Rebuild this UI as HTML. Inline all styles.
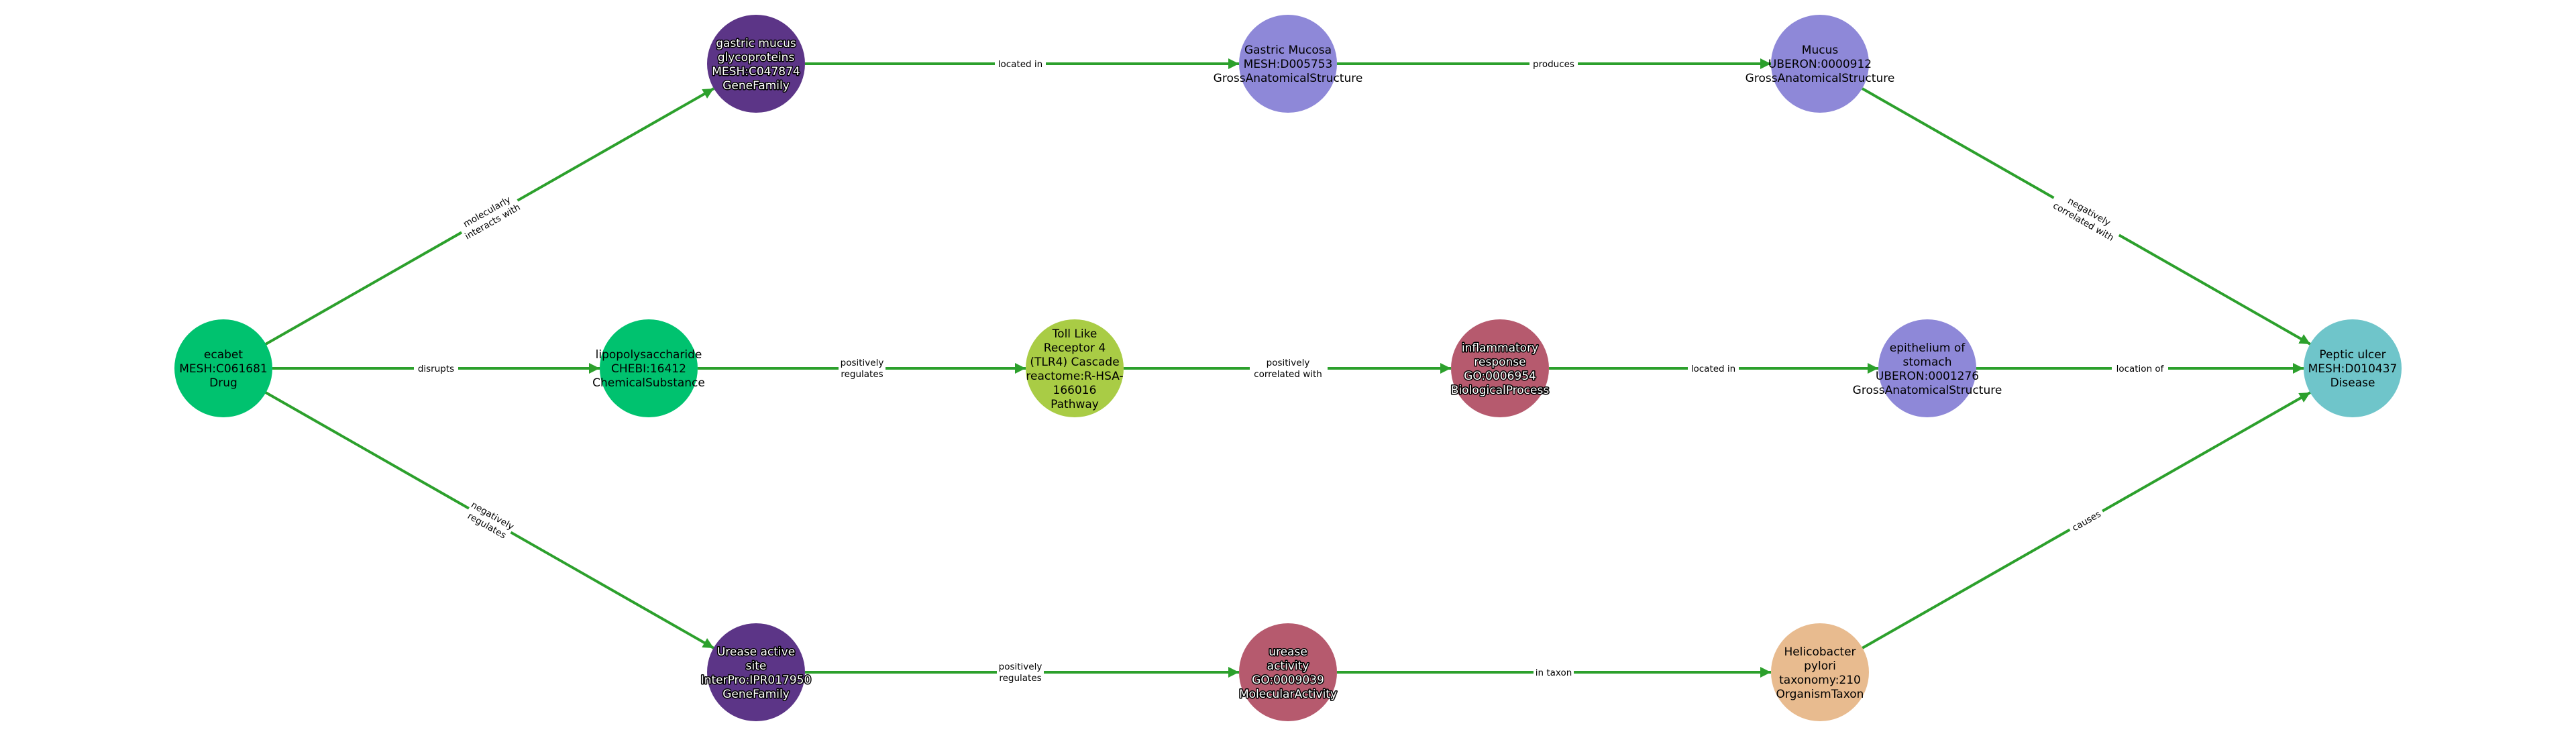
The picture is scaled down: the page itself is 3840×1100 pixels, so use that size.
<!DOCTYPE html>
<html><head><meta charset="utf-8"><style>
html,body{margin:0;padding:0;background:#fff;}
svg{display:block;}
.n{font-family:"DejaVu Sans","Liberation Sans",sans-serif;font-size:17px;text-anchor:middle;fill:#000;}
.w{fill:#fff;stroke:#000;stroke-width:3px;paint-order:stroke;stroke-linejoin:round;}
.e{font-family:"DejaVu Sans","Liberation Sans",sans-serif;font-size:13.5px;text-anchor:middle;fill:#000;}
.l{stroke:#2ca02c;stroke-width:4;fill:none;}
</style></head><body>
<svg width="3840" height="1100" viewBox="0 0 3840 1100" xmlns="http://www.w3.org/2000/svg">
<defs><marker id="a" viewBox="0 0 10 10" refX="10" refY="5" markerWidth="4" markerHeight="4" orient="auto" markerUnits="strokeWidth"><path d="M0,0 L10,5 L0,10 z" fill="#2ca02c"/></marker></defs>
<!-- edges -->
<g class="l" marker-end="url(#a)">
<line x1="396" y1="513" x2="1064" y2="132"/>
<line x1="406" y1="549" x2="894" y2="549"/>
<line x1="396" y1="585" x2="1064" y2="966"/>
<line x1="1200" y1="95" x2="1847" y2="95"/>
<line x1="1993" y1="95" x2="2640" y2="95"/>
<line x1="2776" y1="132" x2="3444" y2="513"/>
<line x1="1040" y1="549" x2="1529" y2="549"/>
<line x1="1675" y1="549" x2="2163" y2="549"/>
<line x1="2309" y1="549" x2="2800" y2="549"/>
<line x1="2946" y1="549" x2="3434" y2="549"/>
<line x1="1200" y1="1002" x2="1847" y2="1002"/>
<line x1="1993" y1="1002" x2="2640" y2="1002"/>
<line x1="2776" y1="966" x2="3444" y2="585"/>
</g>
<!-- edge labels -->
<g class="e">
<g transform="translate(730,323) rotate(-29.7)"><rect x="-48" y="-20" width="96" height="38" fill="#fff"/><text y="-4">molecularly</text><text y="13">interacts with</text></g>
<rect x="617" y="540" width="66" height="18" fill="#fff"/><text x="650" y="554">disrupts</text>
<g transform="translate(730,776) rotate(29.7)"><rect x="-36" y="-20" width="72" height="38" fill="#fff"/><text y="-4">negatively</text><text y="13">regulates</text></g>
<rect x="1483" y="86" width="76" height="18" fill="#fff"/><text x="1521" y="100">located in</text>
<rect x="2280" y="86" width="72" height="18" fill="#fff"/><text x="2316" y="100">produces</text>
<g transform="translate(3110,323) rotate(29.7)"><rect x="-56" y="-20" width="112" height="38" fill="#fff"/><text y="-4">negatively</text><text y="13">correlated with</text></g>
<rect x="1250" y="530" width="70" height="38" fill="#fff"/><text x="1285" y="545">positively</text><text x="1285" y="562">regulates</text>
<rect x="1863" y="530" width="116" height="38" fill="#fff"/><text x="1920" y="545">positively</text><text x="1920" y="562">correlated with</text>
<rect x="2516" y="540" width="76" height="18" fill="#fff"/><text x="2554" y="554">located in</text>
<rect x="3148" y="540" width="84" height="18" fill="#fff"/><text x="3190" y="554">location of</text>
<rect x="1486" y="983" width="70" height="38" fill="#fff"/><text x="1521" y="998">positively</text><text x="1521" y="1015">regulates</text>
<rect x="2286" y="993" width="60" height="18" fill="#fff"/><text x="2316" y="1007">in taxon</text>
<g transform="translate(3110,776) rotate(-29.7)"><rect x="-28" y="-10" width="56" height="19" fill="#fff"/><text y="5">causes</text></g>
</g>
<!-- nodes -->
<g>
<circle cx="333" cy="549" r="73" fill="#00c26f"/>
<circle cx="967" cy="549" r="73" fill="#00c26f"/>
<circle cx="1602" cy="549" r="73" fill="#a9cc45"/>
<circle cx="2236" cy="549" r="73" fill="#b65a6e"/>
<circle cx="2873" cy="549" r="73" fill="#8e88d8"/>
<circle cx="3507" cy="549" r="73" fill="#6fc5ca"/>
<circle cx="1127" cy="95" r="73" fill="#5c3587"/>
<circle cx="1920" cy="95" r="73" fill="#8e88d8"/>
<circle cx="2713" cy="95" r="73" fill="#8e88d8"/>
<circle cx="1127" cy="1002" r="73" fill="#5c3587"/>
<circle cx="1920" cy="1002" r="73" fill="#b65a6e"/>
<circle cx="2713" cy="1002" r="73" fill="#e8bb8f"/>
</g>
<g class="n">
<text x="333" y="534">ecabet</text><text x="333" y="555">MESH:C061681</text><text x="333" y="576">Drug</text>
<text x="967" y="534">lipopolysaccharide</text><text x="967" y="555">CHEBI:16412</text><text x="967" y="576">ChemicalSubstance</text>
<text x="1602" y="503">Toll Like</text><text x="1602" y="524">Receptor 4</text><text x="1602" y="545">(TLR4) Cascade</text><text x="1602" y="566">reactome:R-HSA-</text><text x="1602" y="587">166016</text><text x="1602" y="608">Pathway</text>
<g class="w"><text x="2236" y="524">inflammatory</text><text x="2236" y="545">response</text><text x="2236" y="566">GO:0006954</text><text x="2236" y="587">BiologicalProcess</text></g>
<text x="2873" y="524">epithelium of</text><text x="2873" y="545">stomach</text><text x="2873" y="566">UBERON:0001276</text><text x="2873" y="587">GrossAnatomicalStructure</text>
<text x="3507" y="534">Peptic ulcer</text><text x="3507" y="555">MESH:D010437</text><text x="3507" y="576">Disease</text>
<g class="w"><text x="1127" y="70">gastric mucus</text><text x="1127" y="91">glycoproteins</text><text x="1127" y="112">MESH:C047874</text><text x="1127" y="133">GeneFamily</text></g>
<text x="1920" y="80">Gastric Mucosa</text><text x="1920" y="101">MESH:D005753</text><text x="1920" y="122">GrossAnatomicalStructure</text>
<text x="2713" y="80">Mucus</text><text x="2713" y="101">UBERON:0000912</text><text x="2713" y="122">GrossAnatomicalStructure</text>
<g class="w"><text x="1127" y="977">Urease active</text><text x="1127" y="998">site</text><text x="1127" y="1019">InterPro:IPR017950</text><text x="1127" y="1040">GeneFamily</text></g>
<g class="w"><text x="1920" y="977">urease</text><text x="1920" y="998">activity</text><text x="1920" y="1019">GO:0009039</text><text x="1920" y="1040">MolecularActivity</text></g>
<text x="2713" y="977">Helicobacter</text><text x="2713" y="998">pylori</text><text x="2713" y="1019">taxonomy:210</text><text x="2713" y="1040">OrganismTaxon</text>
</g>
</svg>
</body></html>
